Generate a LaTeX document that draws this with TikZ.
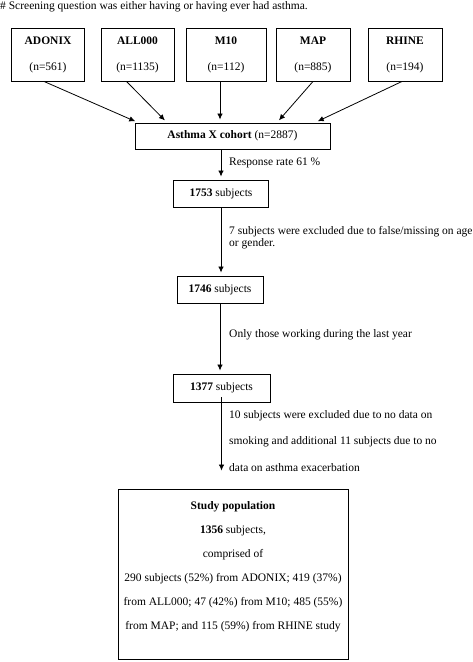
\documentclass[tikz,border=0pt]{standalone}
\usepackage{fontspec}
\setmainfont{Liberation Serif}
\usepackage{tikz}
\usetikzlibrary{%
  calc,%
  arrows,%
  arrows.meta%
}

\begin{document}
\begin{tikzpicture}[x=1pt,y=-1pt,
  source/.style={draw,line width=0.9pt,minimum height=53pt,inner sep=0pt,align=center,
    font=\fontsize{11.5}{26}\selectfont},
  stage/.style={draw,line width=0.9pt,inner sep=0pt,align=center,
    font=\fontsize{11.5}{14}\selectfont},
  note/.style={inner sep=0pt,align=left,font=\fontsize{11.5}{14}\selectfont},
  flow/.style={-{Latex[length=6pt,width=5.5pt]},line width=0.8pt,shorten >=3pt}]
\useasboundingbox (0,0) rectangle (473,662);

\node[note,anchor=base west] (screen) at (0,9) {\# Screening question was either having or having ever had asthma.};

% the five source studies
\node[source,minimum width=73pt] (adonix) at (48,54.5) {\textbf{ADONIX}\\(n=561)};
\node[source,minimum width=73pt] (all) at (137.5,54.5) {\textbf{ALL000}\\(n=1135)};
\node[source,minimum width=80pt] (mten) at (226,54.5) {\textbf{M10}\\(n=112)};
\node[source,minimum width=74pt] (map) at (313,54.5) {\textbf{MAP}\\(n=885)};
\node[source,minimum width=74pt] (rhine) at (405,54.5) {\textbf{RHINE}\\(n=194)};

\node[stage,minimum width=195pt,minimum height=26pt] (cohort) at (232.5,136) {\textbf{Asthma X cohort} (n=2887)};

\draw[flow] ([xshift=-4pt]adonix.south) -- ([xshift=-94.5pt]cohort.north);
\draw[flow] ([xshift=-11pt]all.south) -- ([xshift=-65.5pt]cohort.north);
\draw[flow] ([xshift=-6pt]mten.south) -- ([xshift=-6pt]mten.south |- cohort.north);
\draw[flow] (map.south) -- ([xshift=44.5pt]cohort.north);
\draw[flow] ([xshift=-3pt]rhine.south) -- ([xshift=82.5pt]cohort.north);

% exclusion steps
\node[stage,minimum width=95pt,minimum height=27pt] (sa) at (221,193.5) {\textbf{1753} subjects};
\node[stage,minimum width=86pt,minimum height=27pt] (sb) at (220,289.5) {\textbf{1746} subjects};
\node[stage,minimum width=97pt,minimum height=28pt] (sc) at (221.5,388) {\textbf{1377} subjects};
\node[stage,minimum width=230pt,minimum height=170pt,text depth=17pt,
  font=\fontsize{11.5}{24}\selectfont] (study) at (233,574)
  {\textbf{Study population}\\
   \textbf{1356} subjects,\\
   comprised of\\
   290 subjects (52\%) from ADONIX; 419 (37\%)\\
   from ALL000; 47 (42\%) from M10; 485 (55\%)\\
   from MAP; and 115 (59\%) from RHINE study};

\draw[flow] (cohort.south -| sa.north) -- (sa.north);
\node[note,anchor=west] (rr) at (229,163) {Response rate 61 \%};

\draw[flow] (sa.south) -- (sa.south |- sb.north);
\node[note,anchor=north west,font=\fontsize{11.5}{12}\selectfont] (exa) at (229,226)
  {7 subjects were excluded due to false/missing on age\\or gender.};

\draw[flow] (sb.south) -- (sb.south |- sc.north);
\node[note,anchor=west] (work) at (229,335) {Only those working during the last year};

\draw[flow,shorten >=18pt] ([yshift=5pt]sc.south) -- (sc.south |- study.north);
\node[note,anchor=north west,font=\fontsize{11.5}{26.5}\selectfont] (exb) at (229,410)
  {10 subjects were excluded due to no data on\\
   smoking and additional 11 subjects due to no\\
   data on asthma exacerbation};
\end{tikzpicture}
\end{document}
